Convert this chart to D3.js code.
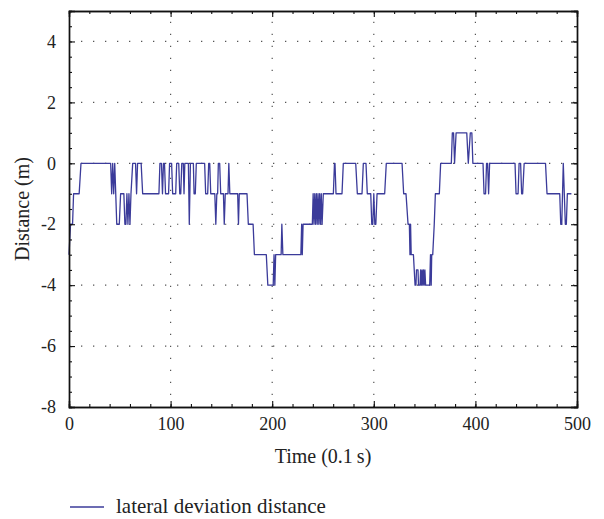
<!DOCTYPE html>
<html>
<head>
<meta charset="utf-8">
<script src="https://cdn.jsdelivr.net/npm/d3@7"></script>
<style>
  html, body { margin: 0; padding: 0; background: #fff; }
  svg { display: block; }
  text { font-family: "Liberation Serif", "DejaVu Serif", serif; fill: #222; }
</style>
</head>
<body>
<svg id="chart" width="604" height="519"></svg>
<script>
// ---- data (breakpoints of the recorded signal, time in 0.1 s, distance in m) ----
const timeSteps = [
  0, 1.5, 3.5, 4.5, 10, 11.8, 41, 42, 43, 44, 45, 46, 47, 49.5, 50.8, 54, 55, 56, 57, 58, 59, 60, 61, 62.7,
  65.5, 66.5, 67.5, 71, 72.5, 88.5, 89.5, 91, 92, 93, 94, 95, 98, 99, 101, 102, 105, 106, 108, 109, 110,
  111, 112.5, 113.2, 114, 117.5, 118.4, 119.5, 122.4, 123.1, 124.3, 125.3, 133.5, 134.5, 136.5, 137.5,
  138.5, 139.5, 143.5, 144.5, 145.5, 146.3, 147, 148.3, 149.3, 152, 152.8, 153.8, 156.5, 157.3, 158.3,
  166, 166.8, 167.6, 175.2, 176.5, 181.2, 182.5, 194.2, 195.7, 201, 201.8, 202.6, 203.4, 208.8, 209.5,
  210.5, 228.2, 229, 229.6, 230.4, 239.5, 240.3, 241.1, 241.9, 242.7, 243.5, 244.3, 245.1, 245.9, 246.7,
  247.5, 248.3, 249.1, 250.3, 260.2, 261.3, 261.8, 262.8, 268.7, 270, 282.2, 283.8, 288.4, 289.7, 292.3,
  293.6, 297, 298, 299, 300, 301, 302, 303.2, 310.7, 312.3, 327.8, 329.4, 331.7, 333.7, 335, 335.6, 336.2,
  336.8, 339, 340.6, 341.5, 342, 343.5, 344, 345.5, 346.1, 346.8, 347.5, 348.2, 348.9, 349.6, 350.3, 351,
  355, 355.8, 356.5, 357, 358, 359.5, 360.6, 364.5, 365.8, 376.3, 377.3, 378.5, 379.5, 381, 391.5, 393,
  395, 396.5, 397.5, 407.5, 408.5, 410, 411, 412, 413, 414, 439, 440, 442, 443, 444.5, 445.5, 446.5, 448,
  469, 470.5, 483, 484, 485, 486.5, 488.5, 489.5, 490.5, 494.5
];
const distance = [
  -3, -2, -2, -1, -1, 0, 0, -1, 0, -1, 0, -1, -2, -2, -1, -1, -2, -2, -1, -2, -1, -2, -1, 0,
  0, -1, 0, 0, -1, -1, 0, 0, -1, 0, 0, -1, -1, 0, 0, -1, -1, 0, 0, -1, -1,
  0, 0, -1, 0, 0, -2, 0, 0, -1, -1, 0, 0, -1, -1, 0,
  0, -1, -1, -2, -1, -1, 0, 0, -1, -1, -2, -1, -1, 0, -1,
  -1, -2, -1, -1, -2, -2, -3, -3, -4, -4, -3, -4, -3, -3, -2,
  -3, -3, -2, -3, -2, -2, -1, -2, -1, -2, -1, -2, -1, -2, -1,
  -2, -1, -2, -1, -1, 0, 0, -1, -1, 0, 0, -1, -1, 0, 0,
  -1, -1, -2, -2, -1, -2, -2, -1, -1, 0, 0, -1, -1, -2, -2, -3, -2,
  -3, -3, -4, -4, -3.5, -3.5, -4, -4, -3.5, -4, -3.5, -4, -3.5, -4, -3.5, -4,
  -4, -3, -4, -3, -3, -2, -1, -1, 0, 0, 1, 1, 0, 1, 1, 0,
  1, 1, 0, 0, -1, -1, 0, 0, -1, 0, 0, -1, -1, 0, 0, -1, -1, 0,
  0, -1, -1, -2, -2, 0, -2, -2, -1, -1
];
const xTicks = [0, 100, 200, 300, 400, 500];
const yTicks = [-8, -6, -4, -2, 0, 2, 4];
const xTitle = "Time (0.1\u2009s)";
const yTitle = "Distance (m)";
const seriesName = "lateral deviation distance";

// ---- layout ----
const svg = d3.select("#chart");
const mLeft = 69, mRight = 577, mTop = 11, mBottom = 407;
const lineColor = "#3b3b9a";
const serif = "'Liberation Serif', 'DejaVu Serif', serif";

const x = d3.scaleLinear().domain([0, 500]).range([mLeft, mRight]);
const y = d3.scaleLinear().domain([-8, 5]).range([mBottom, mTop]);

// grid (dotted)
const grid = svg.append("g");
xTicks.filter(t => t > 0 && t < 500).forEach(t => {
  grid.append("line").attr("x1", x(t)).attr("x2", x(t)).attr("y1", mBottom).attr("y2", mTop)
    .attr("stroke", "#555").attr("stroke-width", 1.2).attr("stroke-dasharray", "1.3,10.7");
});
yTicks.filter(t => t > -8).forEach(t => {
  grid.append("line").attr("x1", mLeft).attr("x2", mRight).attr("y1", y(t)).attr("y2", y(t))
    .attr("stroke", "#555").attr("stroke-width", 1.2).attr("stroke-dasharray", "1.3,10.7");
});

// data line
const pts = timeSteps.map((t, i) => [t, distance[i]]);
svg.append("path")
  .datum(pts)
  .attr("fill", "none")
  .attr("stroke", lineColor)
  .attr("stroke-width", 1.3)
  .attr("stroke-linejoin", "round")
  .attr("d", d3.line().x(d => x(d[0])).y(d => y(d[1])));

// axes
const xMinor = d3.range(0, 501, 20);
const yMinor = d3.range(-8, 5.01, 0.5);

svg.append("g").attr("transform", `translate(0,${mBottom})`)
  .call(d3.axisBottom(x).tickValues(xTicks).tickSize(-6).tickPadding(10).tickFormat(d3.format("d")));
svg.append("g").attr("transform", `translate(${mLeft},0)`)
  .call(d3.axisLeft(y).tickValues(yTicks).tickSize(-6).tickPadding(13).tickFormat(d => d));
svg.append("g").attr("transform", `translate(0,${mTop})`)
  .call(d3.axisTop(x).tickValues(xTicks).tickSize(-6).tickFormat(""));
svg.append("g").attr("transform", `translate(${mRight},0)`)
  .call(d3.axisRight(y).tickValues(yTicks).tickSize(-6).tickFormat(""));

// minor ticks
svg.append("g").attr("transform", `translate(0,${mBottom})`)
  .call(d3.axisBottom(x).tickValues(xMinor).tickSize(-3).tickFormat(""));
svg.append("g").attr("transform", `translate(0,${mTop})`)
  .call(d3.axisTop(x).tickValues(xMinor).tickSize(-3).tickFormat(""));
svg.append("g").attr("transform", `translate(${mLeft},0)`)
  .call(d3.axisLeft(y).tickValues(yMinor).tickSize(-3).tickFormat(""));
svg.append("g").attr("transform", `translate(${mRight},0)`)
  .call(d3.axisRight(y).tickValues(yMinor).tickSize(-3).tickFormat(""));

svg.selectAll("g").attr("font-family", serif);
svg.selectAll(".domain").attr("stroke", "#111").attr("stroke-width", 1.4);
svg.selectAll(".tick line").attr("stroke", "#111").attr("stroke-width", 1.1);
svg.selectAll(".tick text")
  .style("font-family", serif)
  .style("font-size", "18px").attr("fill", "#222");

// axis titles
svg.append("text").attr("x", (mLeft + mRight) / 2).attr("y", 463)
  .attr("text-anchor", "middle").style("font-family", serif).style("font-size", "20px").text(xTitle);
svg.append("text")
  .attr("transform", `translate(29,${(mTop + mBottom) / 2}) rotate(-90)`)
  .attr("text-anchor", "middle").style("font-family", serif).style("font-size", "20px").text(yTitle);

// legend
svg.append("line").attr("x1", 70).attr("x2", 104).attr("y1", 507).attr("y2", 507)
  .attr("stroke", lineColor).attr("stroke-width", 1.3);
svg.append("text").attr("x", 116).attr("y", 513)
  .style("font-family", serif).style("font-size", "21px").text(seriesName);
</script>
</body>
</html>
